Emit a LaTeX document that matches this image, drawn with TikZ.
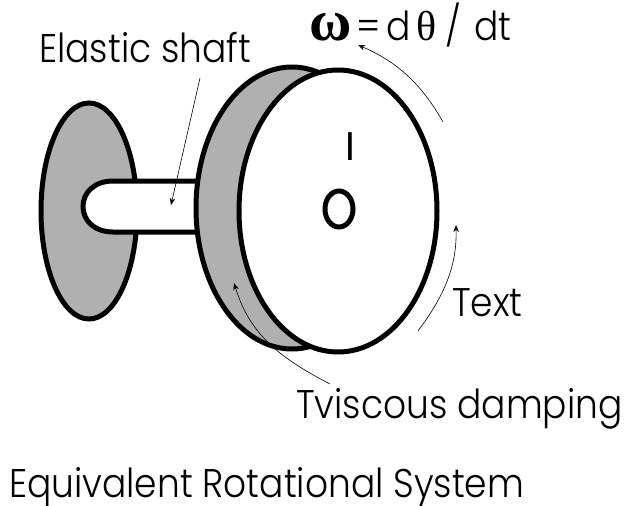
\documentclass[tikz,border=0pt]{standalone}
\usepackage{fontspec}
\setmainfont{Poppins Light}[FakeStretch=0.9]
\newfontfamily\greekfont{Liberation Serif}
\newfontfamily\regfont{Poppins}
\usetikzlibrary{arrows.meta}
\tikzset{
  thick line/.style={draw=black,line width=5pt},
  gray part/.style={thick line,fill=black!31},
  white part/.style={thick line,fill=white},
  pointer/.style={draw=black,line width=0.6pt,-{Stealth[length=7pt,width=5.5pt]}},
  label text/.style={inner sep=0pt,anchor=base west,text=black,font=\fontsize{40}{42}\selectfont}
}
\begin{document}
\begin{tikzpicture}[x=1pt,y=-1pt]
\useasboundingbox (0,0) rectangle (625,506);
% left disc
\draw[gray part] (89,211) ellipse [x radius=48,y radius=108];
% shaft
\fill[white] (196,181) -- (113,181) .. controls (95,181) and (83,192) .. (83,206.5) .. controls (83,221) and (95,232) .. (113,232) -- (196,232) -- cycle;
\draw[thick line] (196,181) -- (113,181) .. controls (95,181) and (83,192) .. (83,206.5) .. controls (83,221) and (95,232) .. (113,232) -- (196,232);
% main disc
\draw[gray part] (292,208) ellipse [x radius=96,y radius=141];
\draw[white part] (338,211) ellipse [x radius=99,y radius=141];
\draw[thick line] (339,209) ellipse [x radius=14,y radius=18];
% labels
\node[label text] (elastic) at (39,63) {Elastic shaft};
\node[label text] (inertia) at (345,160) {\regfont I};
\node[label text] (torque) at (452,316) {Text};
\node[label text] (damping) at (296,418) {Tviscous damping};
\node[label text] (title) at (9,497) {Equivalent Rotational System};
\node[label text] (omega) at (309,41) {{\greekfont\bfseries\fontsize{58}{58}\selectfont ω}\kern5pt=\kern6pt d\kern5pt{\greekfont\fontsize{42}{42}\selectfont θ}\kern9pt/\kern13pt dt};
% pointers
\coordinate (e0) at (200,78);
\coordinate (e1) at (171,205);
\draw[pointer] (e0) -- (e1);
\coordinate (o0) at (443,122);
\coordinate (o1) at (358,45);
\draw[pointer] (o0) .. controls (422,85) and (398,62) .. (o1);
\coordinate (t0) at (418,331);
\coordinate (t1) at (456,225);
\draw[pointer] (t0) .. controls (445,295) and (457,265) .. (t1);
\coordinate (d0) at (330,384);
\coordinate (d1) at (234,283);
\draw[pointer] (d0) .. controls (280,358) and (250,335) .. (d1);
\end{tikzpicture}
\end{document}
